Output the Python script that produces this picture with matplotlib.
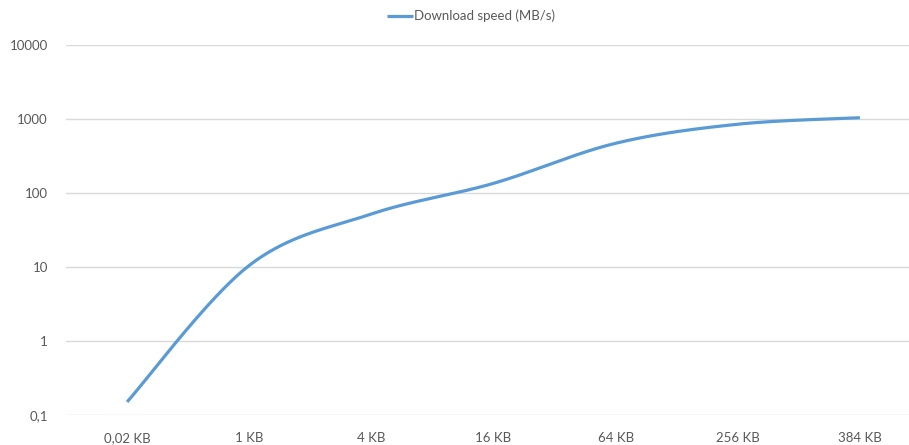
import matplotlib.pyplot as plt
import numpy as np

categories = ['0,02 KB', '1 KB', '4 KB', '16 KB', '64 KB', '256 KB', '384 KB']
speed = [0.15, 10.5, 52, 135, 470, 850, 1040]
y_ticks = [0.1, 1, 10, 100, 1000, 10000]
y_tick_labels = ['0,1', '1', '10', '100', '1000', '10000']
series_name = 'Download speed (MB/s)'

LINE = '#5B9BD5'
GRID = '#D9D9D9'
TEXT = '#595959'

plt.rcParams['font.family'] = ['Lato', 'DejaVu Sans']


def excel_smooth(xs, ys, sx, sy, n=40):
    # Catmull-Rom style bezier in screen space, like Excel's smoothed line
    px = np.asarray(xs, float) * sx
    py = np.log10(np.asarray(ys, float)) * sy
    pts = np.column_stack([px, py])
    out = []
    for i in range(len(pts) - 1):
        p0 = pts[max(i - 1, 0)]
        p1 = pts[i]
        p2 = pts[i + 1]
        p3 = pts[min(i + 2, len(pts) - 1)]
        c1 = p1 + (p2 - p0) / 6
        c2 = p2 - (p3 - p1) / 6
        t = np.linspace(0, 1, n)[:, None]
        seg = ((1 - t) ** 3) * p1 + 3 * ((1 - t) ** 2) * t * c1 \
            + 3 * (1 - t) * t ** 2 * c2 + t ** 3 * p2
        out.append(seg if i == 0 else seg[1:])
    curve = np.vstack(out)
    return curve[:, 0] / sx, 10 ** (curve[:, 1] / sy)


fig = plt.figure(figsize=(9.09, 4.45), dpi=100)
# plot area from x=66px to 921px (cropped at the right), y from 45px to 415px
ax = fig.add_axes([66 / 909, 30 / 445, 855 / 909, 370 / 445])

x = np.arange(len(categories))
sx_line, sy_line = excel_smooth(x, speed, 122.2, 74)
line, = ax.plot(sx_line, sy_line, color=LINE, lw=2.3, solid_capstyle='butt',
                label=series_name, zorder=3)

ax.set_yscale('log')
ax.set_ylim(0.1, 10000)
ax.set_xlim(-0.5, len(categories) - 0.5)
ax.set_yticks(y_ticks)
ax.set_yticklabels(y_tick_labels)
ax.yaxis.set_minor_locator(plt.NullLocator())
ax.set_xticks(x)
ax.set_xticklabels(categories)

ax.grid(axis='y', color=GRID, lw=1.0)
ax.set_axisbelow(True)
for s in ax.spines.values():
    s.set_visible(False)
ax.tick_params(axis='both', length=0, colors=TEXT, labelsize=9.5)
ax.tick_params(axis='y', pad=13)
ax.tick_params(axis='x', pad=12)

fig.legend(handles=[line], loc='center', bbox_to_anchor=(471 / 909, 1 - 16 / 445),
           frameon=False, fontsize=9.5, labelcolor=TEXT, handlelength=2.0,
           handletextpad=0.1)

fig.savefig('out.png', dpi=100)
